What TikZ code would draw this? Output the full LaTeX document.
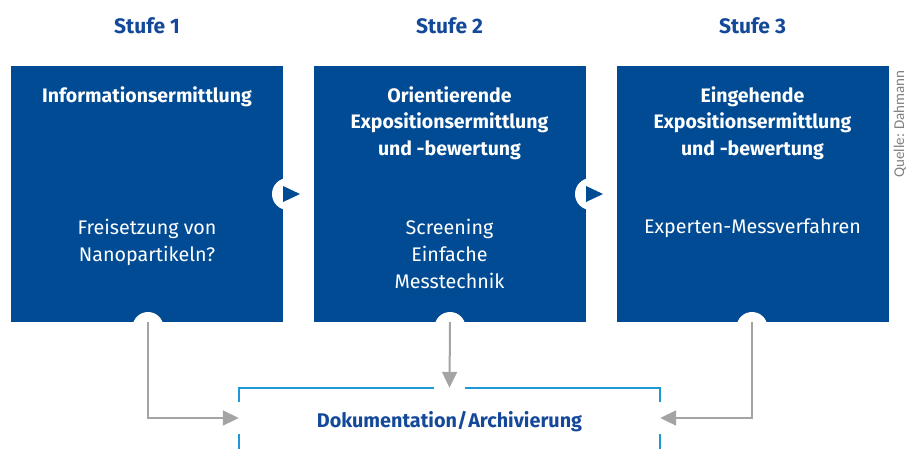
\documentclass[tikz,border=0pt]{standalone}
\usepackage{fontspec}
\setmainfont{Fira Sans}
\newfontfamily\notefont{Carlito}
\usetikzlibrary{arrows.meta,calc}
\definecolor{boxblue}{HTML}{004B93}
\definecolor{headblue}{HTML}{14499A}
\definecolor{framecyan}{HTML}{1D9AD6}
\definecolor{arrowgray}{HTML}{A4A4A4}
\definecolor{notegray}{HTML}{808080}
\begin{document}
\begin{tikzpicture}[x=1pt,y=-1pt,
  stagebox/.style={fill=boxblue,draw=none,minimum width=272pt,minimum height=256pt,inner sep=0pt},
  stagehead/.style={text=headblue,font=\bfseries\fontsize{21}{25}\selectfont,anchor=base,inner sep=0pt},
  boxtitle/.style={text=white,font=\bfseries\fontsize{19.5}{26.5}\selectfont,align=center,anchor=north,inner sep=0pt},
  boxbody/.style={text=white,font=\fontsize{19.7}{27}\selectfont,align=center,anchor=north,inner sep=0pt},
  knob/.style={circle,fill=white,draw=none,minimum size=32pt,inner sep=0pt},
  arr/.style={draw=arrowgray,line width=2pt,-{Triangle[length=16pt,width=15pt]}},
  frame/.style={draw=framecyan,line width=2pt}
]
\useasboundingbox (0,0) rectangle (920,448);
\clip (0,0) rectangle (920,448);

% stage headings
\node[stagehead] (s1) at (147,33) {Stufe 1};
\node[stagehead] (s2) at (449.5,33) {Stufe 2};
\node[stagehead] (s3) at (752.5,33) {Stufe 3};

% stage boxes
\node[stagebox] (b1) at (147,194) {};
\node[stagebox] (b2) at (449.5,194) {};
\node[stagebox] (b3) at (752.5,194) {};

% box titles
\node[boxtitle] (t1) at (147,86) {Informationsermittlung};
\node[boxtitle] (t2) at (449.5,86) {Orientierende\\Expositionsermittlung\\und -bewertung};
\node[boxtitle] (t3) at (752.5,86) {Eingehende\\Expositionsermittlung\\und -bewertung};

% box contents
\node[boxbody] (m1) at (147,219) {Freisetzung von\\Nanopartikeln?};
\node[boxbody] (m2) at (449.5,219) {Screening\\Einfache\\Messtechnik};
\node[boxbody] (m3) at (752.5,219) {Experten-Messverfahren};

% step markers between the boxes
\node[knob] (r1) at (288,194) {};
\node[knob] (r2) at (591,194) {};
\fill[boxblue] ($(r1)+(-5,-8)$) -- ($(r1)+(12,0)$) -- ($(r1)+(-5,8)$) -- cycle;
\fill[boxblue] ($(r2)+(-5,-8)$) -- ($(r2)+(12,0)$) -- ($(r2)+(-5,8)$) -- cycle;

% outlets under the boxes
\node[knob,minimum size=31pt] (c1) at (148,327.5) {};
\node[knob,minimum size=31pt] (c2) at (450,327.5) {};
\node[knob,minimum size=31pt] (c3) at (752,327.5) {};

% documentation frame
\node[minimum width=421pt,minimum height=60pt,inner sep=0pt] (doc) at (449.5,418) {};
\node[text=headblue,font=\bfseries\fontsize{19.8}{22}\selectfont,anchor=base,inner sep=0pt] (dt) at (449.5,427) {Dokumentation/\kern1pt Archivierung};
\draw[frame] ($(doc.west)+(0,-16)$) -- (doc.north west) -- ($(doc.north)+(-15.5,0)$);
\draw[frame] ($(doc.north)+(15.5,0)$) -- (doc.north east) -- ($(doc.east)+(0,-16)$);
\draw[frame] ($(doc.west)+(0,16)$) -- ($(doc.south west)+(0,2)$);
\draw[frame] ($(doc.east)+(0,16)$) -- ($(doc.south east)+(0,2)$);

% connectors
\draw[arr] (c1 |- b1.south) |- (doc.west);
\draw[arr] (c2 |- b2.south) -- (doc.north);
\draw[arr] (c3 |- b3.south) |- (doc.east);

% source note
\node[text=notegray,font=\notefont\fontsize{15}{17}\selectfont,rotate=90,inner sep=0pt] (src) at (900,124) {Quelle: Dahmann};
\end{tikzpicture}
\end{document}
